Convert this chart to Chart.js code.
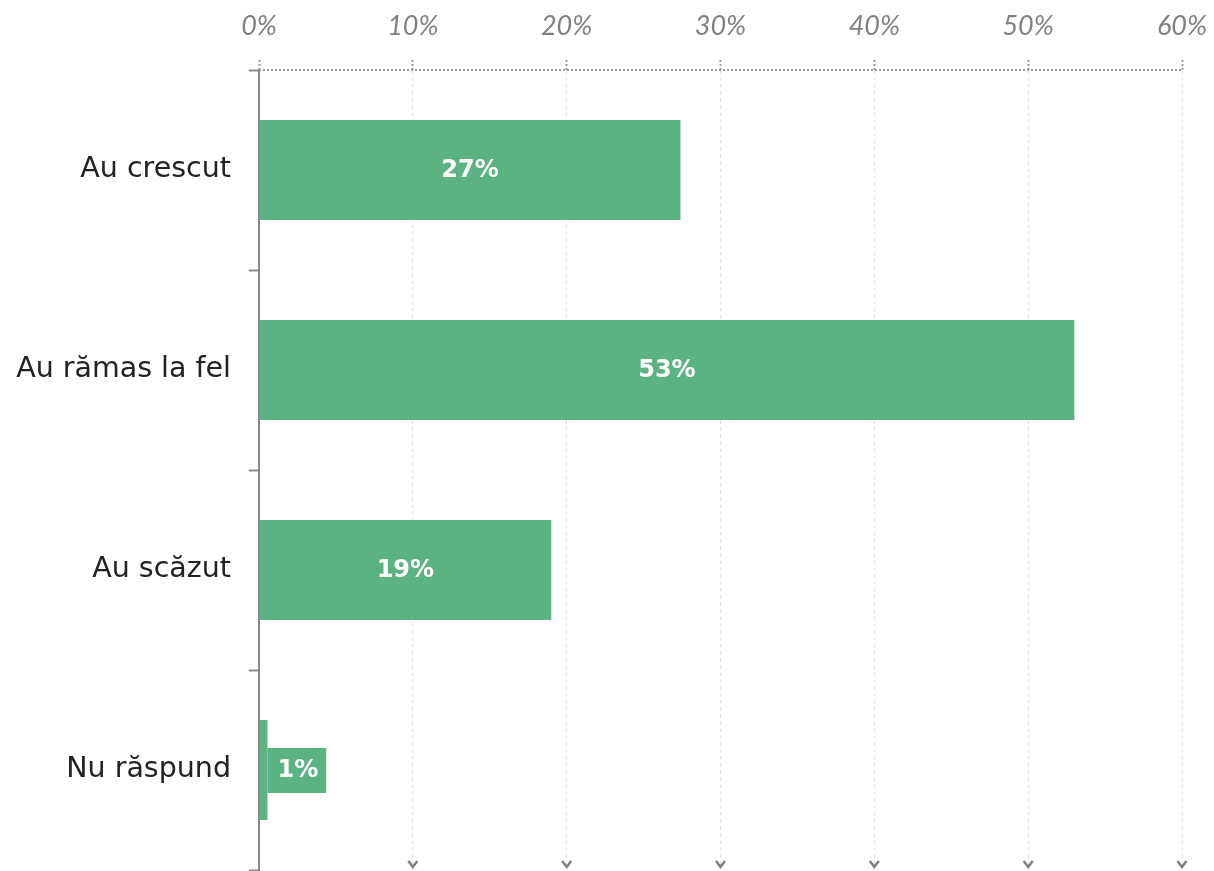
<!DOCTYPE html>
<html>
<head>
<meta charset="utf-8">
<script src="https://cdn.jsdelivr.net/npm/chart.js@4"></script>
<style>
  html, body { margin: 0; padding: 0; background: #fff; }
  #wrap { width: 1214px; height: 871px; }
</style>
</head>
<body>
<div id="wrap"><canvas id="myChart"></canvas></div>
<script>
var categorii = ['Au crescut', 'Au rămas la fel', 'Au scăzut', 'Nu răspund'];
var procente = [27.4, 53.0, 19.0, 0.55];
var eticheteValori = ['27%', '53%', '19%', '1%'];
var tickuriX = [0, 10, 20, 30, 40, 50, 60];

var verde = '#5bb382';
var gri = '#808080';

// etichete albe pe bare (sau in caseta langa bara daca nu incap)
var eticheteBare = {
  id: 'eticheteBare',
  afterDatasetsDraw: function(chart) {
    var ctx = chart.ctx;
    var meta = chart.getDatasetMeta(0);
    ctx.save();
    ctx.font = 'bold 24px "DejaVu Sans"';
    ctx.textBaseline = 'middle';
    ctx.textAlign = 'center';
    meta.data.forEach(function(bar, i) {
      var txt = eticheteValori[i];
      var w = ctx.measureText(txt).width;
      var lungime = bar.x - bar.base;
      if (lungime > w + 24) {
        ctx.fillStyle = '#fff';
        ctx.fillText(txt, (bar.x + bar.base) / 2, bar.y + 1);
      } else {
        var pad = 9;
        ctx.fillStyle = verde;
        ctx.fillRect(bar.x, bar.y - 22, w + pad * 2, 45);
        ctx.fillStyle = '#fff';
        ctx.fillText(txt, bar.x + pad + 1 + w / 2, bar.y + 1);
      }
    });
    ctx.restore();
  }
};

// axa de sus punctata si sagetile mici de jos
var decor = {
  id: 'decor',
  afterDraw: function(chart) {
    var ctx = chart.ctx;
    var sx = chart.scales.x;
    var a = chart.chartArea;
    ctx.save();
    ctx.strokeStyle = '#999';
    ctx.lineWidth = 2;
    ctx.setLineDash([2, 2]);
    ctx.beginPath();
    ctx.moveTo(a.left, a.top);
    ctx.lineTo(a.right, a.top);
    ctx.stroke();
    ctx.setLineDash([]);
    ctx.strokeStyle = gri;
    ctx.lineWidth = 2.5;
    tickuriX.forEach(function(v) {
      if (v === 0) return;
      var px = sx.getPixelForValue(v);
      ctx.beginPath();
      ctx.moveTo(px - 4.5, a.bottom - 9);
      ctx.lineTo(px, a.bottom - 3);
      ctx.lineTo(px + 4.5, a.bottom - 9);
      ctx.stroke();
    });
    ctx.restore();
  }
};

const ctx = document.getElementById('myChart').getContext('2d');
const myChart = new Chart(ctx, {
  type: 'bar',
  data: {
    labels: categorii,
    datasets: [{
      data: procente,
      backgroundColor: verde,
      borderWidth: 0,
      categoryPercentage: 0.5,
      barPercentage: 1
    }]
  },
  options: {
    indexAxis: 'y',
    responsive: true,
    maintainAspectRatio: false,
    animation: false,
    layout: { padding: { left: 0, right: 32, top: 0, bottom: 1 } },
    plugins: {
      legend: { display: false },
      tooltip: { enabled: false }
    },
    scales: {
      x: {
        position: 'top',
        min: 0,
        max: 60,
        afterBuildTicks: function(scale) {
          scale.ticks = tickuriX.map(function(v) { return { value: v }; });
        },
        afterFit: function(scale) {
          scale.height = 70;
          scale.paddingLeft = 0;
          scale.paddingRight = 0;
        },
        ticks: {
          callback: function(v) { return v + '%'; },
          color: gri,
          font: { family: 'Lato', size: 27, style: 'italic' },
          padding: 18,
          maxRotation: 0
        },
        grid: {
          color: '#dedede',
          lineWidth: 1,
          tickLength: 10,
          tickColor: '#999',
          tickWidth: 2,
          tickBorderDash: [2, 2]
        },
        border: {
          display: false,
          dash: [4, 3]
        }
      },
      y: {
        afterFit: function(scale) {
          scale.width = 259;
          scale.paddingTop = 0;
          scale.paddingBottom = 0;
        },
        ticks: {
          color: '#222',
          font: { family: 'DejaVu Sans', size: 28.5 },
          padding: 18
        },
        grid: {
          drawOnChartArea: false,
          tickLength: 10,
          tickColor: '#8a8a8a',
          tickWidth: 2
        },
        border: {
          display: true,
          color: '#8a8a8a',
          width: 2
        }
      }
    }
  },
  plugins: [eticheteBare, decor]
});
</script>
</body>
</html>
